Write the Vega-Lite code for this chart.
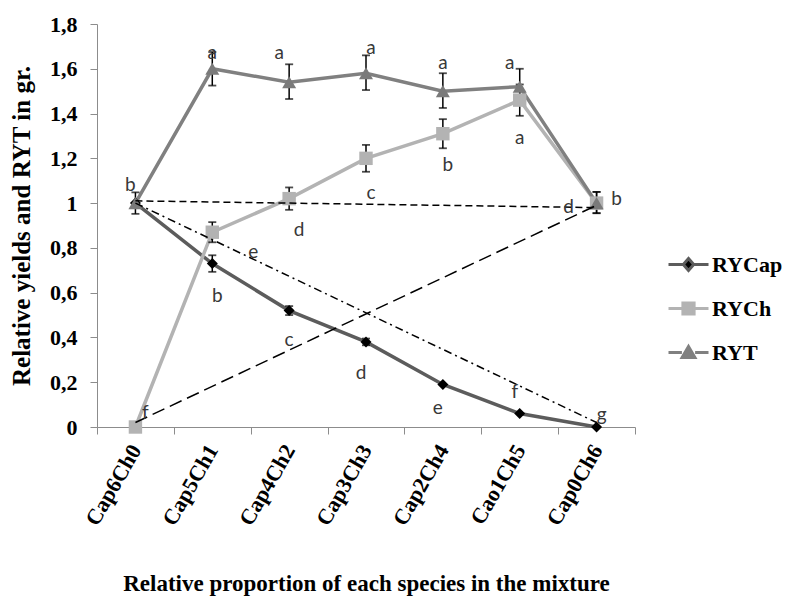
{
  "$schema": "https://vega.github.io/schema/vega-lite/v6.json",
  "width": 538,
  "height": 403,
  "autosize": {"type": "none"},
  "padding": {"left": 97, "top": 24, "right": 151, "bottom": 170},
  "background": "white",
  "config": {
    "view": {"stroke": null},
    "font": "Liberation Serif",
    "legend": {"labelFont": "Liberation Serif", "labelFontSize": 22, "labelFontWeight": "bold", "labelColor": "black", "rowPadding": 10, "labelLimit": 200}
  },
  "datasets": {
    "series": [
      {"cat": "Cap6Ch0", "series": "RYCap", "value": 1.0, "lo": 1.0, "hi": 1.0},
      {"cat": "Cap5Ch1", "series": "RYCap", "value": 0.73, "lo": 0.693, "hi": 0.767},
      {"cat": "Cap4Ch2", "series": "RYCap", "value": 0.52, "lo": 0.5, "hi": 0.54},
      {"cat": "Cap3Ch3", "series": "RYCap", "value": 0.38, "lo": 0.365, "hi": 0.395},
      {"cat": "Cap2Ch4", "series": "RYCap", "value": 0.19, "lo": 0.19, "hi": 0.19},
      {"cat": "Cao1Ch5", "series": "RYCap", "value": 0.06, "lo": 0.06, "hi": 0.06},
      {"cat": "Cap0Ch6", "series": "RYCap", "value": 0.0, "lo": 0.0, "hi": 0.0},
      {"cat": "Cap6Ch0", "series": "RYCh", "value": 0.0, "lo": 0.0, "hi": 0.0},
      {"cat": "Cap5Ch1", "series": "RYCh", "value": 0.87, "lo": 0.825, "hi": 0.915},
      {"cat": "Cap4Ch2", "series": "RYCh", "value": 1.02, "lo": 0.97, "hi": 1.07},
      {"cat": "Cap3Ch3", "series": "RYCh", "value": 1.2, "lo": 1.14, "hi": 1.26},
      {"cat": "Cap2Ch4", "series": "RYCh", "value": 1.31, "lo": 1.245, "hi": 1.375},
      {"cat": "Cao1Ch5", "series": "RYCh", "value": 1.46, "lo": 1.39, "hi": 1.53},
      {"cat": "Cap0Ch6", "series": "RYCh", "value": 1.0, "lo": 0.955, "hi": 1.05},
      {"cat": "Cap6Ch0", "series": "RYT", "value": 1.0, "lo": 0.952, "hi": 1.048},
      {"cat": "Cap5Ch1", "series": "RYT", "value": 1.6, "lo": 1.525, "hi": 1.675},
      {"cat": "Cap4Ch2", "series": "RYT", "value": 1.54, "lo": 1.465, "hi": 1.62},
      {"cat": "Cap3Ch3", "series": "RYT", "value": 1.58, "lo": 1.505, "hi": 1.66},
      {"cat": "Cap2Ch4", "series": "RYT", "value": 1.5, "lo": 1.425, "hi": 1.58},
      {"cat": "Cao1Ch5", "series": "RYT", "value": 1.52, "lo": 1.44, "hi": 1.6},
      {"cat": "Cap0Ch6", "series": "RYT", "value": 1.0, "lo": 0.955, "hi": 1.05}
    ],
    "refs": [
      {"ref": "flat", "cat": "Cap6Ch0", "value": 1.01},
      {"ref": "flat", "cat": "Cap0Ch6", "value": 0.98},
      {"ref": "rise", "cat": "Cap6Ch0", "value": 0.02},
      {"ref": "rise", "cat": "Cap0Ch6", "value": 0.99},
      {"ref": "fall", "cat": "Cap6Ch0", "value": 1.0},
      {"ref": "fall", "cat": "Cap0Ch6", "value": 0.02}
    ]
  },
  "encoding": {
    "x": {
      "field": "cat",
      "type": "nominal",
      "sort": ["Cap6Ch0", "Cap5Ch1", "Cap4Ch2", "Cap3Ch3", "Cap2Ch4", "Cao1Ch5", "Cap0Ch6"],
      "scale": {"type": "band", "domain": ["Cap6Ch0", "Cap5Ch1", "Cap4Ch2", "Cap3Ch3", "Cap2Ch4", "Cao1Ch5", "Cap0Ch6"], "paddingInner": 0, "paddingOuter": 0},
      "axis": {
        "title": "Relative  proportion of each species in the mixture",
        "titleFont": "Liberation Serif",
        "titleFontSize": 23,
        "titleFontWeight": "bold",
        "titleColor": "black",
        "titlePadding": 44,
        "labelAngle": -60,
        "labelAlign": "right",
        "labelBaseline": "middle",
        "labelFont": "Liberation Serif",
        "labelFontSize": 22,
        "labelFontWeight": "bold",
        "labelColor": "black",
        "labelPadding": 12,
        "tickBand": "extent",
        "tickSize": 7,
        "tickColor": "#8c8c8c",
        "domainColor": "#8c8c8c",
        "grid": false
      }
    },
    "y": {
      "field": "value",
      "type": "quantitative",
      "scale": {"domain": [0, 1.8], "nice": false},
      "axis": {
        "title": "Relative yields and  RYT in gr.",
        "titleFont": "Liberation Serif",
        "titleFontSize": 25,
        "titleFontWeight": "bold",
        "titleColor": "black",
        "titleX": -76,
        "titleBaseline": "middle",
        "values": [0, 0.2, 0.4, 0.6, 0.8, 1, 1.2, 1.4, 1.6, 1.8],
        "labelExpr": "replace(format(datum.value, '~g'), '.', ',')",
        "labelFont": "Liberation Serif",
        "labelFontSize": 22,
        "labelFontWeight": "bold",
        "labelColor": "black",
        "labelPadding": 13,
        "tickSize": 7,
        "tickColor": "#8c8c8c",
        "domainColor": "#8c8c8c",
        "grid": false
      }
    }
  },
  "layer": [
    {
      "data": {"name": "series"},
      "mark": {"type": "line", "strokeWidth": 3.5},
      "encoding": {
        "color": {
          "field": "series",
          "type": "nominal",
          "scale": {"domain": ["RYCap", "RYCh", "RYT"], "range": ["#5c5c5c", "#b3b3b3", "#808080"]},
          "legend": {
            "orient": "none",
            "legendX": 570,
            "legendY": 219,
            "title": null,
            "padding": 0,
            "labelFont": "Liberation Serif",
            "labelFontSize": 22,
            "labelFontWeight": "bold",
            "labelColor": "black",
            "labelOffset": 2,
            "symbolSize": 1600,
            "symbolStrokeWidth": 3,
            "rowPadding": 10,
            "encode": {
              "symbols": {
                "update": {
                  "shape": {"signal": "datum.value === 'RYCap' ? 'M-1,0H-0.28M0.28,0H1M0,-0.3L0.26,0L0,0.3L-0.26,0Z' : datum.value === 'RYCh' ? 'M-1,0H-0.3M0.3,0H1M-0.28,-0.28H0.28V0.28H-0.28Z' : 'M-1,0H-0.33M0.33,0H1M0,-0.3L0.32,0.25H-0.32Z'"},
                  "fill": {"signal": "datum.value === 'RYCap' ? '#000000' : datum.value === 'RYCh' ? '#b3b3b3' : '#808080'"},
                  "opacity": {"value": 1}
                }
              }
            }
          }
        }
      }
    },
    {
      "data": {"name": "series"},
      "transform": [{"filter": "datum.hi > datum.lo"}],
      "mark": {"type": "rule", "color": "black", "strokeWidth": 1.5},
      "encoding": {"y": {"field": "lo", "type": "quantitative"}, "y2": {"field": "hi"}}
    },
    {
      "data": {"name": "series"},
      "transform": [{"filter": "datum.hi > datum.lo"}],
      "mark": {"type": "tick", "color": "black", "thickness": 1.8, "size": 8},
      "encoding": {"y": {"field": "lo", "type": "quantitative"}}
    },
    {
      "data": {"name": "series"},
      "transform": [{"filter": "datum.hi > datum.lo"}],
      "mark": {"type": "tick", "color": "black", "thickness": 1.8, "size": 8},
      "encoding": {"y": {"field": "hi", "type": "quantitative"}}
    },
    {
      "data": {"name": "series"},
      "transform": [{"filter": "datum.series === 'RYCap'"}],
      "mark": {"type": "point", "shape": "diamond", "filled": true, "color": "#000000", "size": 121, "opacity": 1}
    },
    {
      "data": {"name": "series"},
      "transform": [{"filter": "datum.series === 'RYCh'"}],
      "mark": {"type": "point", "shape": "square", "filled": true, "color": "#b3b3b3", "size": 180, "opacity": 1}
    },
    {
      "data": {"name": "series"},
      "transform": [{"filter": "datum.series === 'RYT'"}],
      "mark": {"type": "point", "shape": "triangle-up", "filled": true, "color": "#7a7a7a", "size": 196, "opacity": 1}
    },
    {
      "data": {"name": "refs"},
      "transform": [{"filter": "datum.ref === 'flat'"}],
      "mark": {"type": "line", "color": "black", "strokeWidth": 1.5, "strokeDash": [7, 4]},
      "encoding": {}
    },
    {
      "data": {"name": "refs"},
      "transform": [{"filter": "datum.ref === 'rise'"}],
      "mark": {"type": "line", "color": "black", "strokeWidth": 1.5, "strokeDash": [13, 6]},
      "encoding": {}
    },
    {
      "data": {"name": "refs"},
      "transform": [{"filter": "datum.ref === 'fall'"}],
      "mark": {"type": "line", "color": "black", "strokeWidth": 1.5, "strokeDash": [8, 4, 2, 4]},
      "encoding": {}
    },
    {
      "data": {"values": [
        {"cat": "Cap5Ch1", "value": 1.669, "t": "a"},
        {"cat": "Cap2Ch4", "value": 1.624, "t": "a"},
        {"cat": "Cao1Ch5", "value": 1.289, "t": "a"},
        {"cat": "Cap4Ch2", "value": 0.389, "t": "c"}
      ]},
      "mark": {"type": "text", "font": "Lato", "fontSize": 19, "color": "#383838", "baseline": "middle", "align": "center"},
      "encoding": {"text": {"field": "t"}}
    },
    {
      "data": {"values": [
        {"cat": "Cap6Ch0", "value": 1.08, "t": "b"},
        {"cat": "Cap3Ch3", "value": 0.243, "t": "d"},
        {"cat": "Cap2Ch4", "value": 0.083, "t": "e"},
        {"cat": "Cao1Ch5", "value": 0.158, "t": "f"}
      ]},
      "mark": {"type": "text", "font": "Lato", "fontSize": 19, "color": "#383838", "baseline": "middle", "align": "center", "dx": -5},
      "encoding": {"text": {"field": "t"}}
    },
    {
      "data": {"values": [
        {"cat": "Cap2Ch4", "value": 1.17, "t": "b"},
        {"cat": "Cap3Ch3", "value": 1.044, "t": "c"},
        {"cat": "Cap5Ch1", "value": 0.585, "t": "b"},
        {"cat": "Cap0Ch6", "value": 0.054, "t": "g"}
      ]},
      "mark": {"type": "text", "font": "Lato", "fontSize": 19, "color": "#383838", "baseline": "middle", "align": "center", "dx": 5},
      "encoding": {"text": {"field": "t"}}
    },
    {
      "data": {"values": [
        {"cat": "Cap4Ch2", "value": 0.88, "t": "d"},
        {"cat": "Cap6Ch0", "value": 0.064, "t": "f"}
      ]},
      "mark": {"type": "text", "font": "Lato", "fontSize": 19, "color": "#383838", "baseline": "middle", "align": "center", "dx": 10},
      "encoding": {"text": {"field": "t"}}
    },
    {
      "data": {"values": [
        {"cat": "Cap4Ch2", "value": 1.672, "t": "a"},
        {"cat": "Cao1Ch5", "value": 1.624, "t": "a"}
      ]},
      "mark": {"type": "text", "font": "Lato", "fontSize": 19, "color": "#383838", "baseline": "middle", "align": "center", "dx": -10},
      "encoding": {"text": {"field": "t"}}
    },
    {
      "data": {"values": [
        {"cat": "Cap3Ch3", "value": 1.691, "t": "a"}
      ]},
      "mark": {"type": "text", "font": "Lato", "fontSize": 19, "color": "#383838", "baseline": "middle", "align": "center", "dx": 5},
      "encoding": {"text": {"field": "t"}}
    },
    {
      "data": {"values": [
        {"cat": "Cap5Ch1", "value": 0.783, "t": "e"}
      ]},
      "mark": {"type": "text", "font": "Lato", "fontSize": 19, "color": "#383838", "baseline": "middle", "align": "center", "dx": 41},
      "encoding": {"text": {"field": "t"}}
    },
    {
      "data": {"values": [
        {"cat": "Cap0Ch6", "value": 0.984, "t": "d"}
      ]},
      "mark": {"type": "text", "font": "Lato", "fontSize": 19, "color": "#383838", "baseline": "middle", "align": "center", "dx": -28},
      "encoding": {"text": {"field": "t"}}
    },
    {
      "data": {"values": [
        {"cat": "Cap0Ch6", "value": 1.017, "t": "b"}
      ]},
      "mark": {"type": "text", "font": "Lato", "fontSize": 19, "color": "#383838", "baseline": "middle", "align": "center", "dx": 20},
      "encoding": {"text": {"field": "t"}}
    }
  ]
}
